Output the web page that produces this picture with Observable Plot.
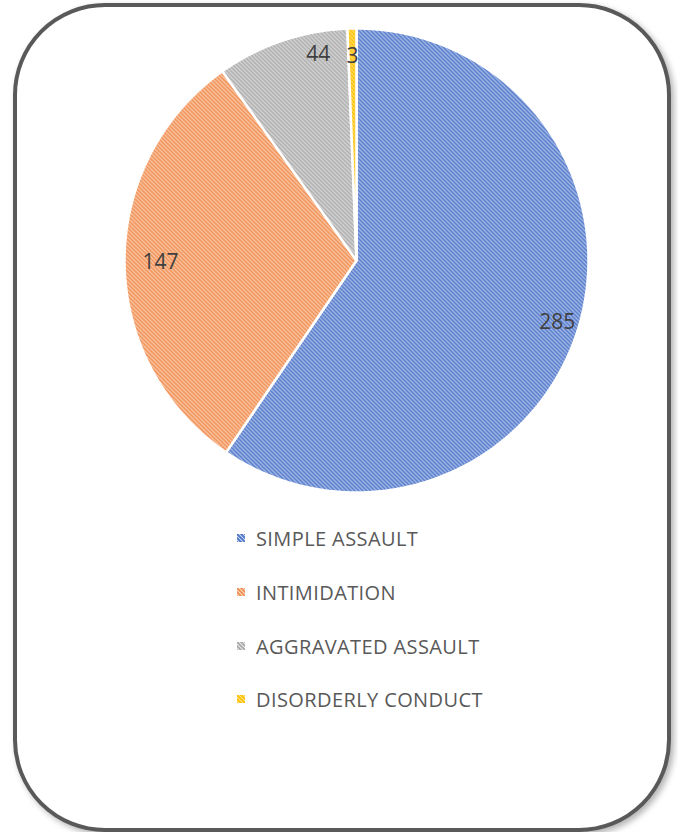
<!DOCTYPE html>
<html><head><meta charset="utf-8">
<script src="https://cdn.jsdelivr.net/npm/d3@7"></script>
<script src="https://cdn.jsdelivr.net/npm/@observablehq/plot@0.6"></script>
<style>
html,body{margin:0;padding:0;background:#fff}
body{width:678px;height:832px;overflow:hidden;position:relative;font-family:"Open Sans",sans-serif}
#frame{position:absolute;left:13px;top:3px;width:658px;height:829px;box-sizing:border-box;border:4px solid #595959;border-radius:92px;box-shadow:3px 3px 6px rgba(0,0,0,0.3);background:#fff}
#chart{position:absolute;left:0;top:0}
#legend{position:absolute;left:0;top:0;width:678px;height:832px;pointer-events:none}
.item{position:absolute;left:237px;height:26px;display:flex;align-items:center;font-size:20px;letter-spacing:0.4px;color:#595959;white-space:nowrap}
.item svg{margin-right:11px}
</style></head>
<body>
<div id="frame"></div>
<svg width="0" height="0" style="position:absolute">
  <defs id="defs"></defs>
</svg>
<div id="chart"></div>
<div id="legend"></div>
<script>
const categories = ["SIMPLE ASSAULT", "INTIMIDATION", "AGGRAVATED ASSAULT", "DISORDERLY CONDUCT"];
const values = [285, 147, 44, 3];
const lineColors = ["#4a72c8", "#f0894a", "#a8a8a8", "#FFC000"];
const lightColors = ["#d3def4", "#fde4d2", "#ececec", "#ffe58f"];

// hatch patterns
const defs = document.getElementById("defs");
const ns = "http://www.w3.org/2000/svg";
categories.forEach((c, i) => {
  const p = document.createElementNS(ns, "pattern");
  p.setAttribute("id", "hatch" + i);
  p.setAttribute("patternUnits", "userSpaceOnUse");
  p.setAttribute("width", 4); p.setAttribute("height", 4);
  const r = document.createElementNS(ns, "rect");
  r.setAttribute("width", 4); r.setAttribute("height", 4);
  r.setAttribute("fill", lightColors[i]);
  const l = document.createElementNS(ns, "path");
  l.setAttribute("d", "M-1,-1L5,5M-1,3L1,5M3,-1L5,1");
  l.setAttribute("stroke", lineColors[i]);
  l.setAttribute("stroke-width", 1.8);
  p.appendChild(r); p.appendChild(l);
  defs.appendChild(p);
});

const R = 232;
const total = d3.sum(values);
const slices = [];
let acc = 0;
values.forEach((v, i) => {
  const a0 = acc / total * 2 * Math.PI;
  acc += v;
  const a1 = acc / total * 2 * Math.PI;
  slices.push({cat: categories[i], value: v, a0, a1, i});
});

function slicePoints(s) {
  const pts = [{x: 0, y: 0}];
  const n = Math.max(2, Math.ceil((s.a1 - s.a0) / (Math.PI / 360)));
  for (let k = 0; k <= n; k++) {
    const a = s.a0 + (s.a1 - s.a0) * k / n;
    pts.push({x: R * Math.sin(a), y: R * Math.cos(a)});
  }
  pts.push({x: 0, y: 0});
  return pts;
}

const labelFrac = [0.905, 0.845, 0.94, 0.88];
const labelNudge = [[0, 0], [0, 0], [32, 0], [0, 0]];
const labels = slices.map((s, i) => {
  const m = (s.a0 + s.a1) / 2;
  return {x: labelFrac[i] * R * Math.sin(m), y: labelFrac[i] * R * Math.cos(m), text: String(s.value), i};
});

const W = 678, H = 510, cx = 356, cy = 260;
const marks = slices.map(s => Plot.line(slicePoints(s), {
  x: "x", y: "y", fill: `url(#hatch${s.i})`, stroke: "#fff", strokeWidth: 2.5, strokeLinejoin: "round"
}));
labels.forEach(l => marks.push(Plot.text([l], {
  x: "x", y: "y", text: "text", dx: labelNudge[l.i][0], dy: labelNudge[l.i][1],
  fontSize: 21, fill: "#404040", fontFamily: "Open Sans"
})));

const plot = Plot.plot({
  width: W, height: H, margin: 0,
  x: {domain: [-cx, W - cx], axis: null},
  y: {domain: [-(H - cy), cy], axis: null},
  style: {background: "transparent", overflow: "visible"},
  marks
});
document.getElementById("chart").appendChild(plot);

// legend
const legend = document.getElementById("legend");
const rowY = [538, 592, 646, 699];
categories.forEach((c, i) => {
  const d = document.createElement("div");
  d.className = "item";
  d.style.top = (rowY[i] - 13) + "px";
  d.innerHTML = `<svg width="8" height="8"><rect width="8" height="8" fill="url(#hatch${i})"/></svg><span>${c}</span>`;
  legend.appendChild(d);
});
</script>
</body></html>
